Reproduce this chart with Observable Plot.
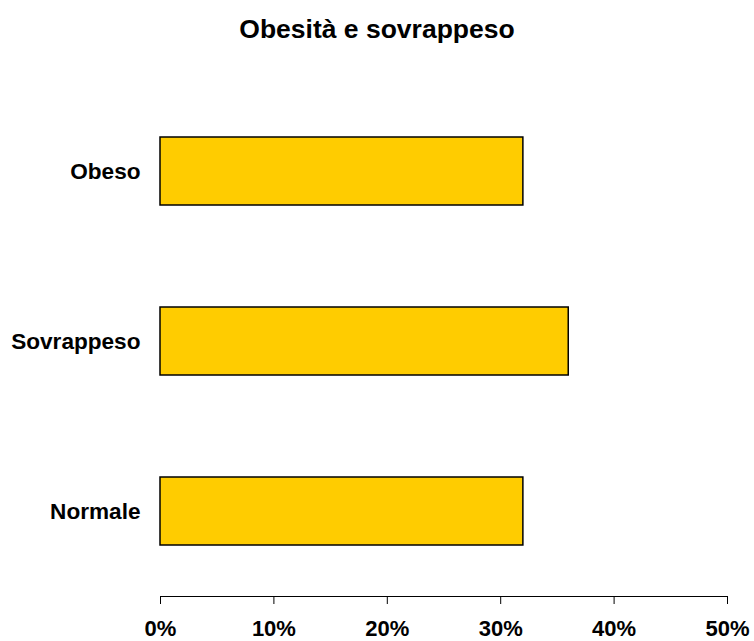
<!DOCTYPE html>
<html>
<head>
<meta charset="utf-8">
<script src="https://cdn.jsdelivr.net/npm/d3@7"></script>
<script src="https://cdn.jsdelivr.net/npm/@observablehq/plot@0.6"></script>
<style>
  html, body { margin: 0; padding: 0; background: #fff; }
  #wrap { position: relative; width: 754px; height: 641px; font-family: "Liberation Sans", Arial, sans-serif; }
  #title { position: absolute; left: 0; top: 15.6px; width: 754px; text-align: center;
           font-size: 26.5px; line-height: 26.5px; font-weight: bold; color: #000; }
</style>
</head>
<body>
<div id="wrap"><div id="title">Obesità e sovrappeso</div></div>
<script>
const categories = ["Obeso", "Sovrappeso", "Normale"];
const values = [32, 36, 32];
const xTicks = [0, 10, 20, 30, 40, 50];

const data = categories.map((c, i) => ({category: c, value: values[i]}));

const chart = Plot.plot({
  width: 754,
  height: 641,
  marginLeft: 160,
  marginRight: 27,
  marginTop: 86,
  marginBottom: 45,
  style: {fontFamily: "'Liberation Sans', Arial, sans-serif", fontSize: "22px", fontWeight: "bold", color: "#000", background: "transparent"},
  x: {domain: [0, 50]},
  y: {domain: categories, paddingInner: 0.6, paddingOuter: 0.3},
  marks: [
    Plot.barX(data, {x: "value", y: "category", fill: "#FFCC00", stroke: "#000", strokeWidth: 1.5}),
    Plot.frame({anchor: "bottom", stroke: "#000", strokeWidth: 1}),
    Plot.axisX({ticks: xTicks, tickFormat: d => d + "%", tickSize: 8, tickPadding: 16, label: null, fontSize: 22, fontWeight: "bold"}),
    Plot.axisY({tickSize: 0, tickPadding: 20, label: null, fontSize: 22.6, fontWeight: "bold"})
  ]
});
chart.style.position = "absolute";
chart.style.left = "0";
chart.style.top = "0";
document.getElementById("wrap").appendChild(chart);
</script>
</body>
</html>
